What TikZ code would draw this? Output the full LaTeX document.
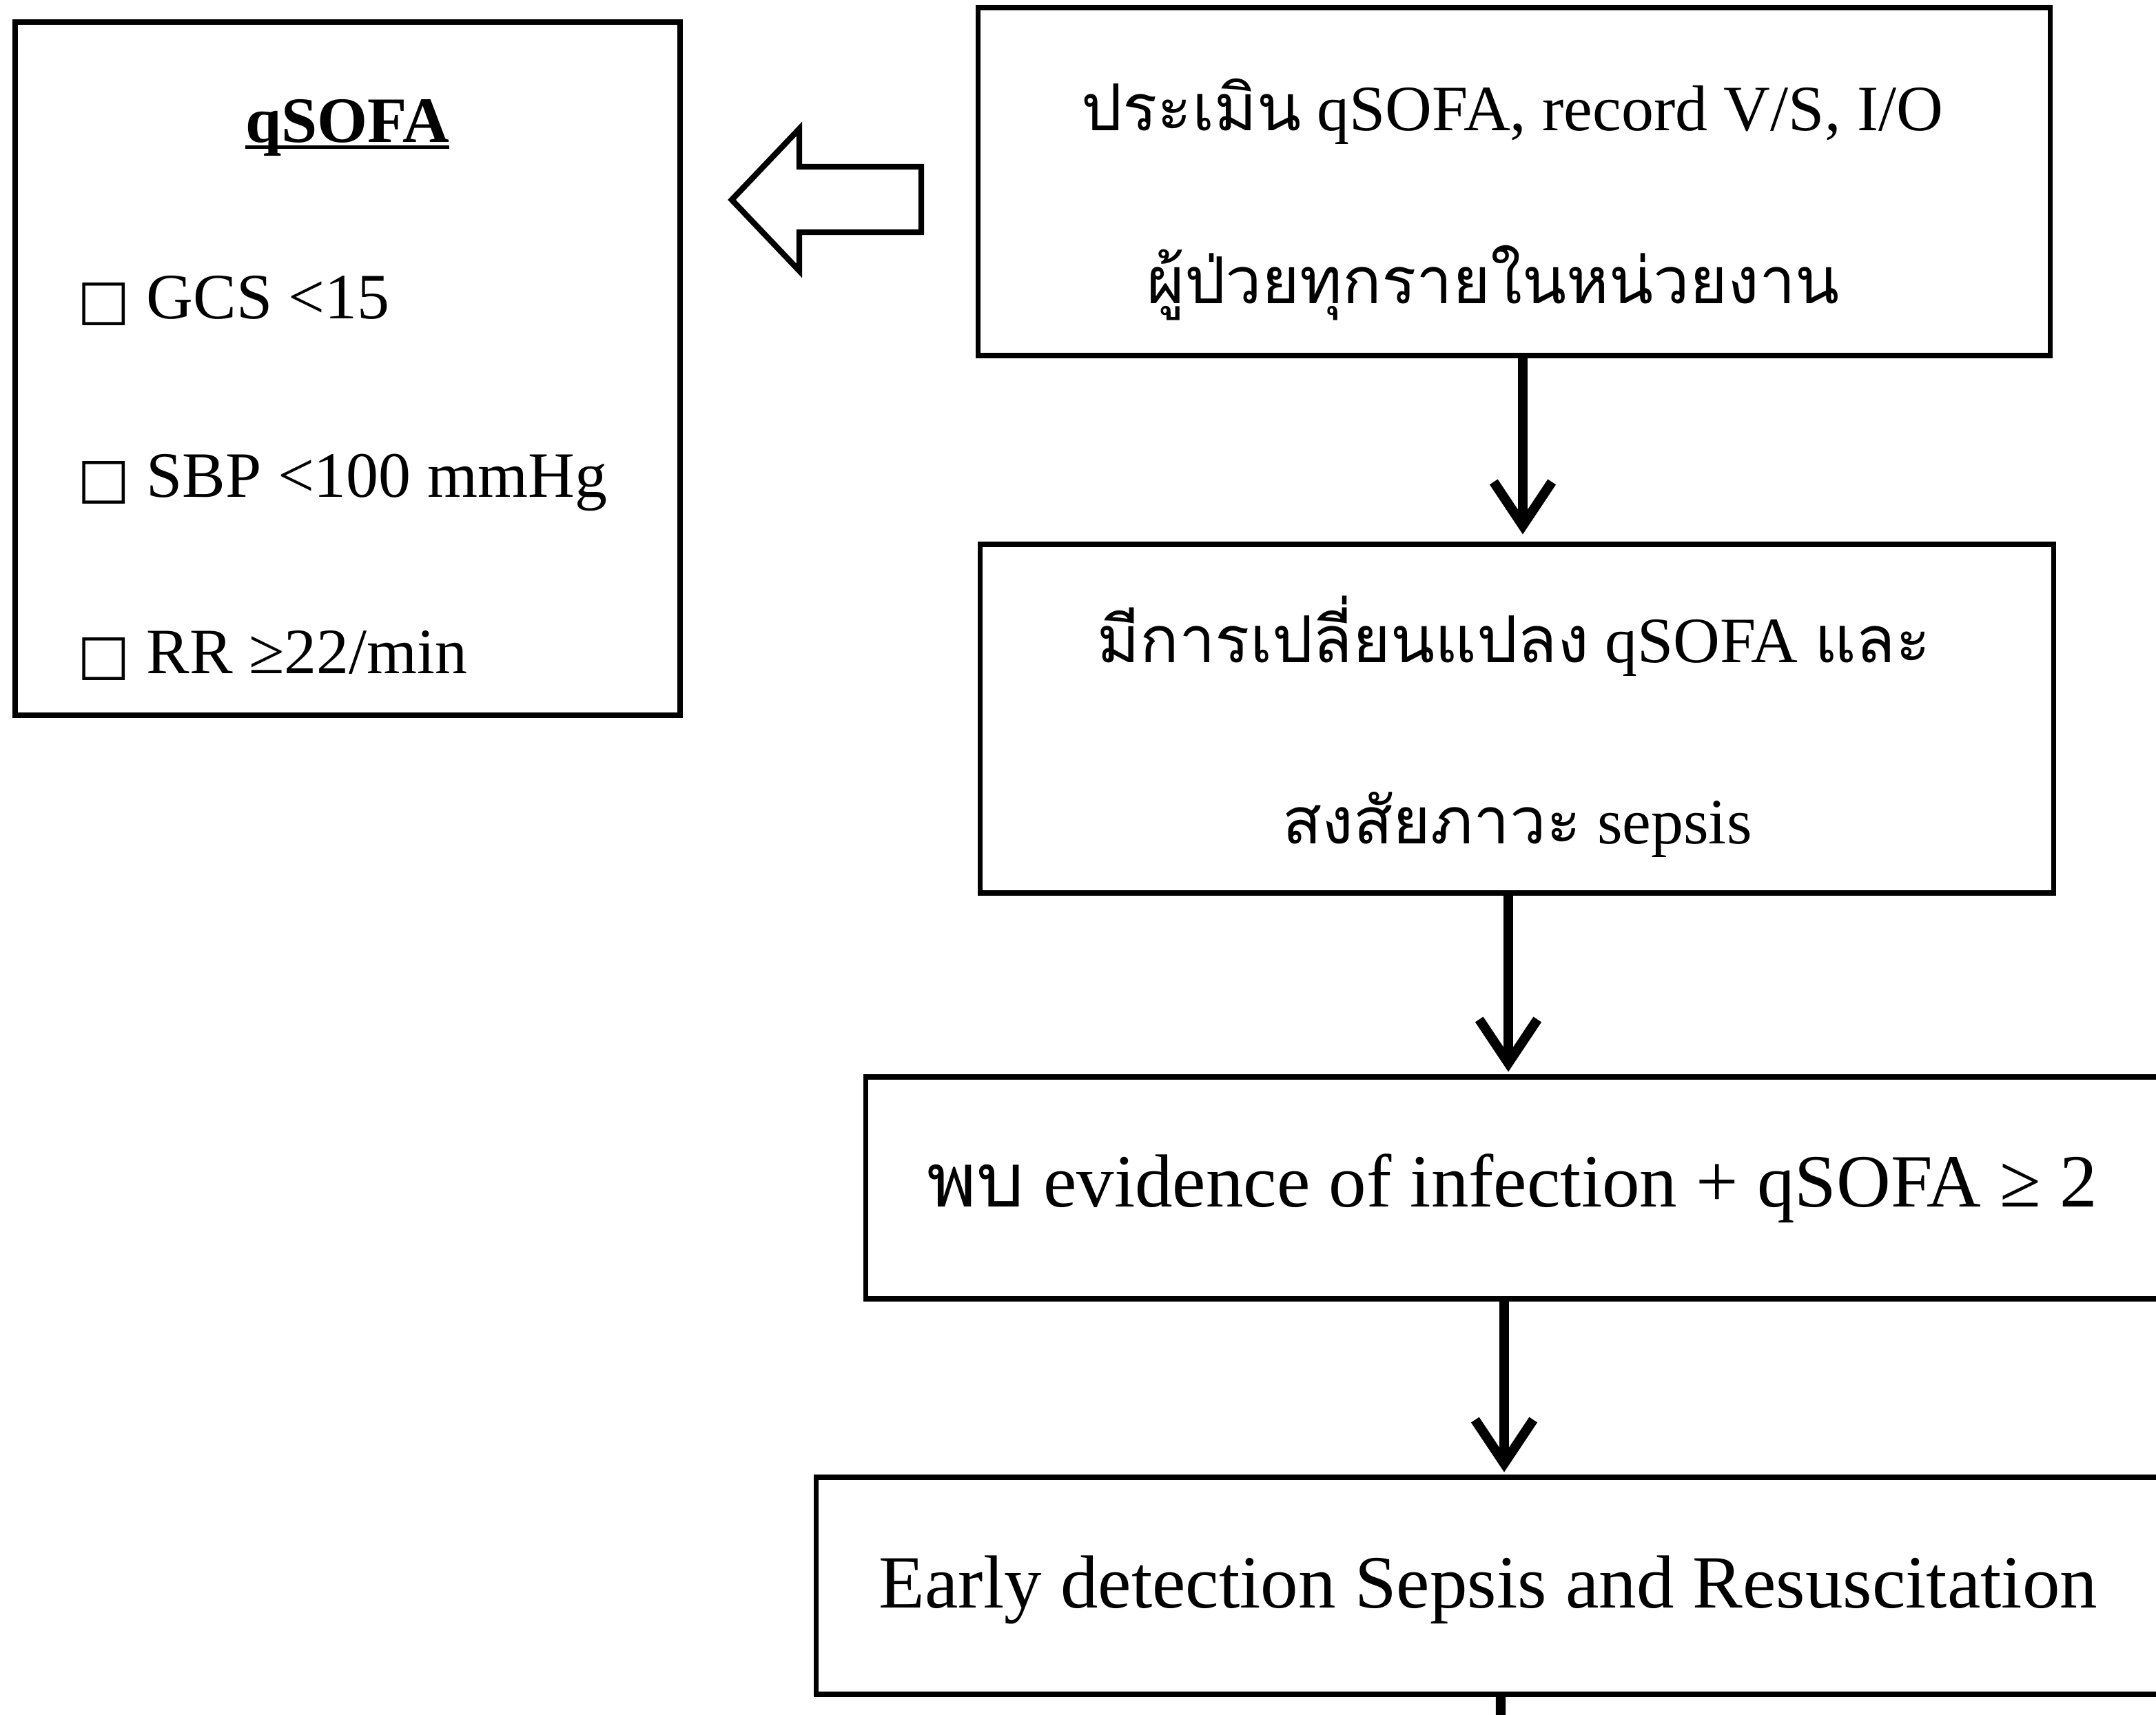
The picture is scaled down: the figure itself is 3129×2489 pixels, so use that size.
\documentclass[tikz,border=0pt]{standalone}
\usepackage{fontspec}
\setmainfont{Liberation Serif}
\newfontfamily\thai[Script=Thai,Scale=1.0]{Loma}
\newfontfamily\symb{DejaVu Sans}
\usetikzlibrary{arrows.meta}
% underline that sits just under the baseline
\newcommand\ulined[1]{\setbox0\hbox{#1}\rlap{\rule[-2.6pt]{\wd0}{1.5pt}}\box0}
% check box glyph
\newcommand\cbox{{\symb\fontsize{23}{23}\selectfont □}}
\tikzset{
  frame/.style={draw, line width=2.2pt, inner sep=0pt},
  small/.style={font=\fontsize{26.7}{30}\selectfont, inner sep=0pt},
  large/.style={font=\fontsize{31}{35}\selectfont, inner sep=0pt},
  flow/.style={line width=4pt, -{Straight Barb[length=18pt,width=24pt]}},
  hollow/.style={draw, line width=2.4pt, line join=miter, fill=white}
}
\begin{document}
\begin{tikzpicture}[x=0.01cm, y=-0.01cm]
  \useasboundingbox (0,0) rectangle (3129,2489);
  \clip (0,0) rectangle (3129,2489);
  \fill[white] (0,0) rectangle (3129,2489);

  % qSOFA criteria box
  \node[frame, minimum width=9.65cm, minimum height=10.06cm] (crit) at (504.5,535) {};
  \node[small, anchor=base] (crittitle) at (504,207) {\bfseries\ulined{qSOFA}};
  \node[small, anchor=base west] (gcs) at (112,463) {\cbox\ GCS <15};
  \node[small, anchor=base west] (sbp) at (112,722) {\cbox\ SBP <100 mmHg};
  \node[small, anchor=base west] (rr)  at (112,978) {\cbox\ RR ≥22/min};

  % block arrow pointing to the criteria box
  \draw[hollow] (1062,290) -- (1160,187) -- (1160,242) -- (1337,242)
        -- (1337,337) -- (1160,337) -- (1160,393) -- cycle;

  % flow steps
  \node[frame, minimum width=15.55cm, minimum height=5.05cm] (s1) at (2197.5,263.5) {};
  \node[small, anchor=base] (s1a) at (2195,190) {{\thai ประเมิน} qSOFA, record V/S, I/O};
  \node[small, anchor=base] (s1b) at (2167,441) {\thai ผู้ป่วยทุกรายในหน่วยงาน};

  \node[frame, minimum width=15.57cm, minimum height=5.06cm] (s2) at (2201.5,1043) {};
  \node[small, anchor=base] (s2a) at (2197,962) {{\thai มีการเปลี่ยนแปลง} qSOFA {\thai และ}};
  \node[small, anchor=base] (s2b) at (2202,1225) {{\thai สงสัยภาวะ} sepsis};

  \node[frame, minimum width=18.93cm, minimum height=3.22cm] (s3) at (2203.5,1724) {};
  \node[large, anchor=base] (s3a) at (2195,1752) {{\thai พบ} evidence of infection + qSOFA ≥ 2};

  \node[frame, minimum width=19.65cm, minimum height=3.15cm] (s4) at (2167.5,2301.5) {};
  \node[large, anchor=base] (s4a) at (2160,2333) {Early detection Sepsis and Resuscitation};

  \coordinate (next) at (2178,2500);

  % connectors
  \draw[flow, shorten >=3pt] ([xshift=0.125cm]s1.south) -- ([xshift=0.125cm]s1.south |- s2.north);
  \draw[flow, shorten >=1pt] ([xshift=-0.125cm]s2.south) -- ([xshift=-0.125cm]s2.south |- s3.north);
  \draw[flow, shorten >=1pt] ([xshift=-0.205cm]s3.south) -- ([xshift=-0.205cm]s3.south |- s4.north);
  \draw[line width=4pt] ([xshift=0.105cm]s4.south) -- (next);
\end{tikzpicture}
\end{document}
